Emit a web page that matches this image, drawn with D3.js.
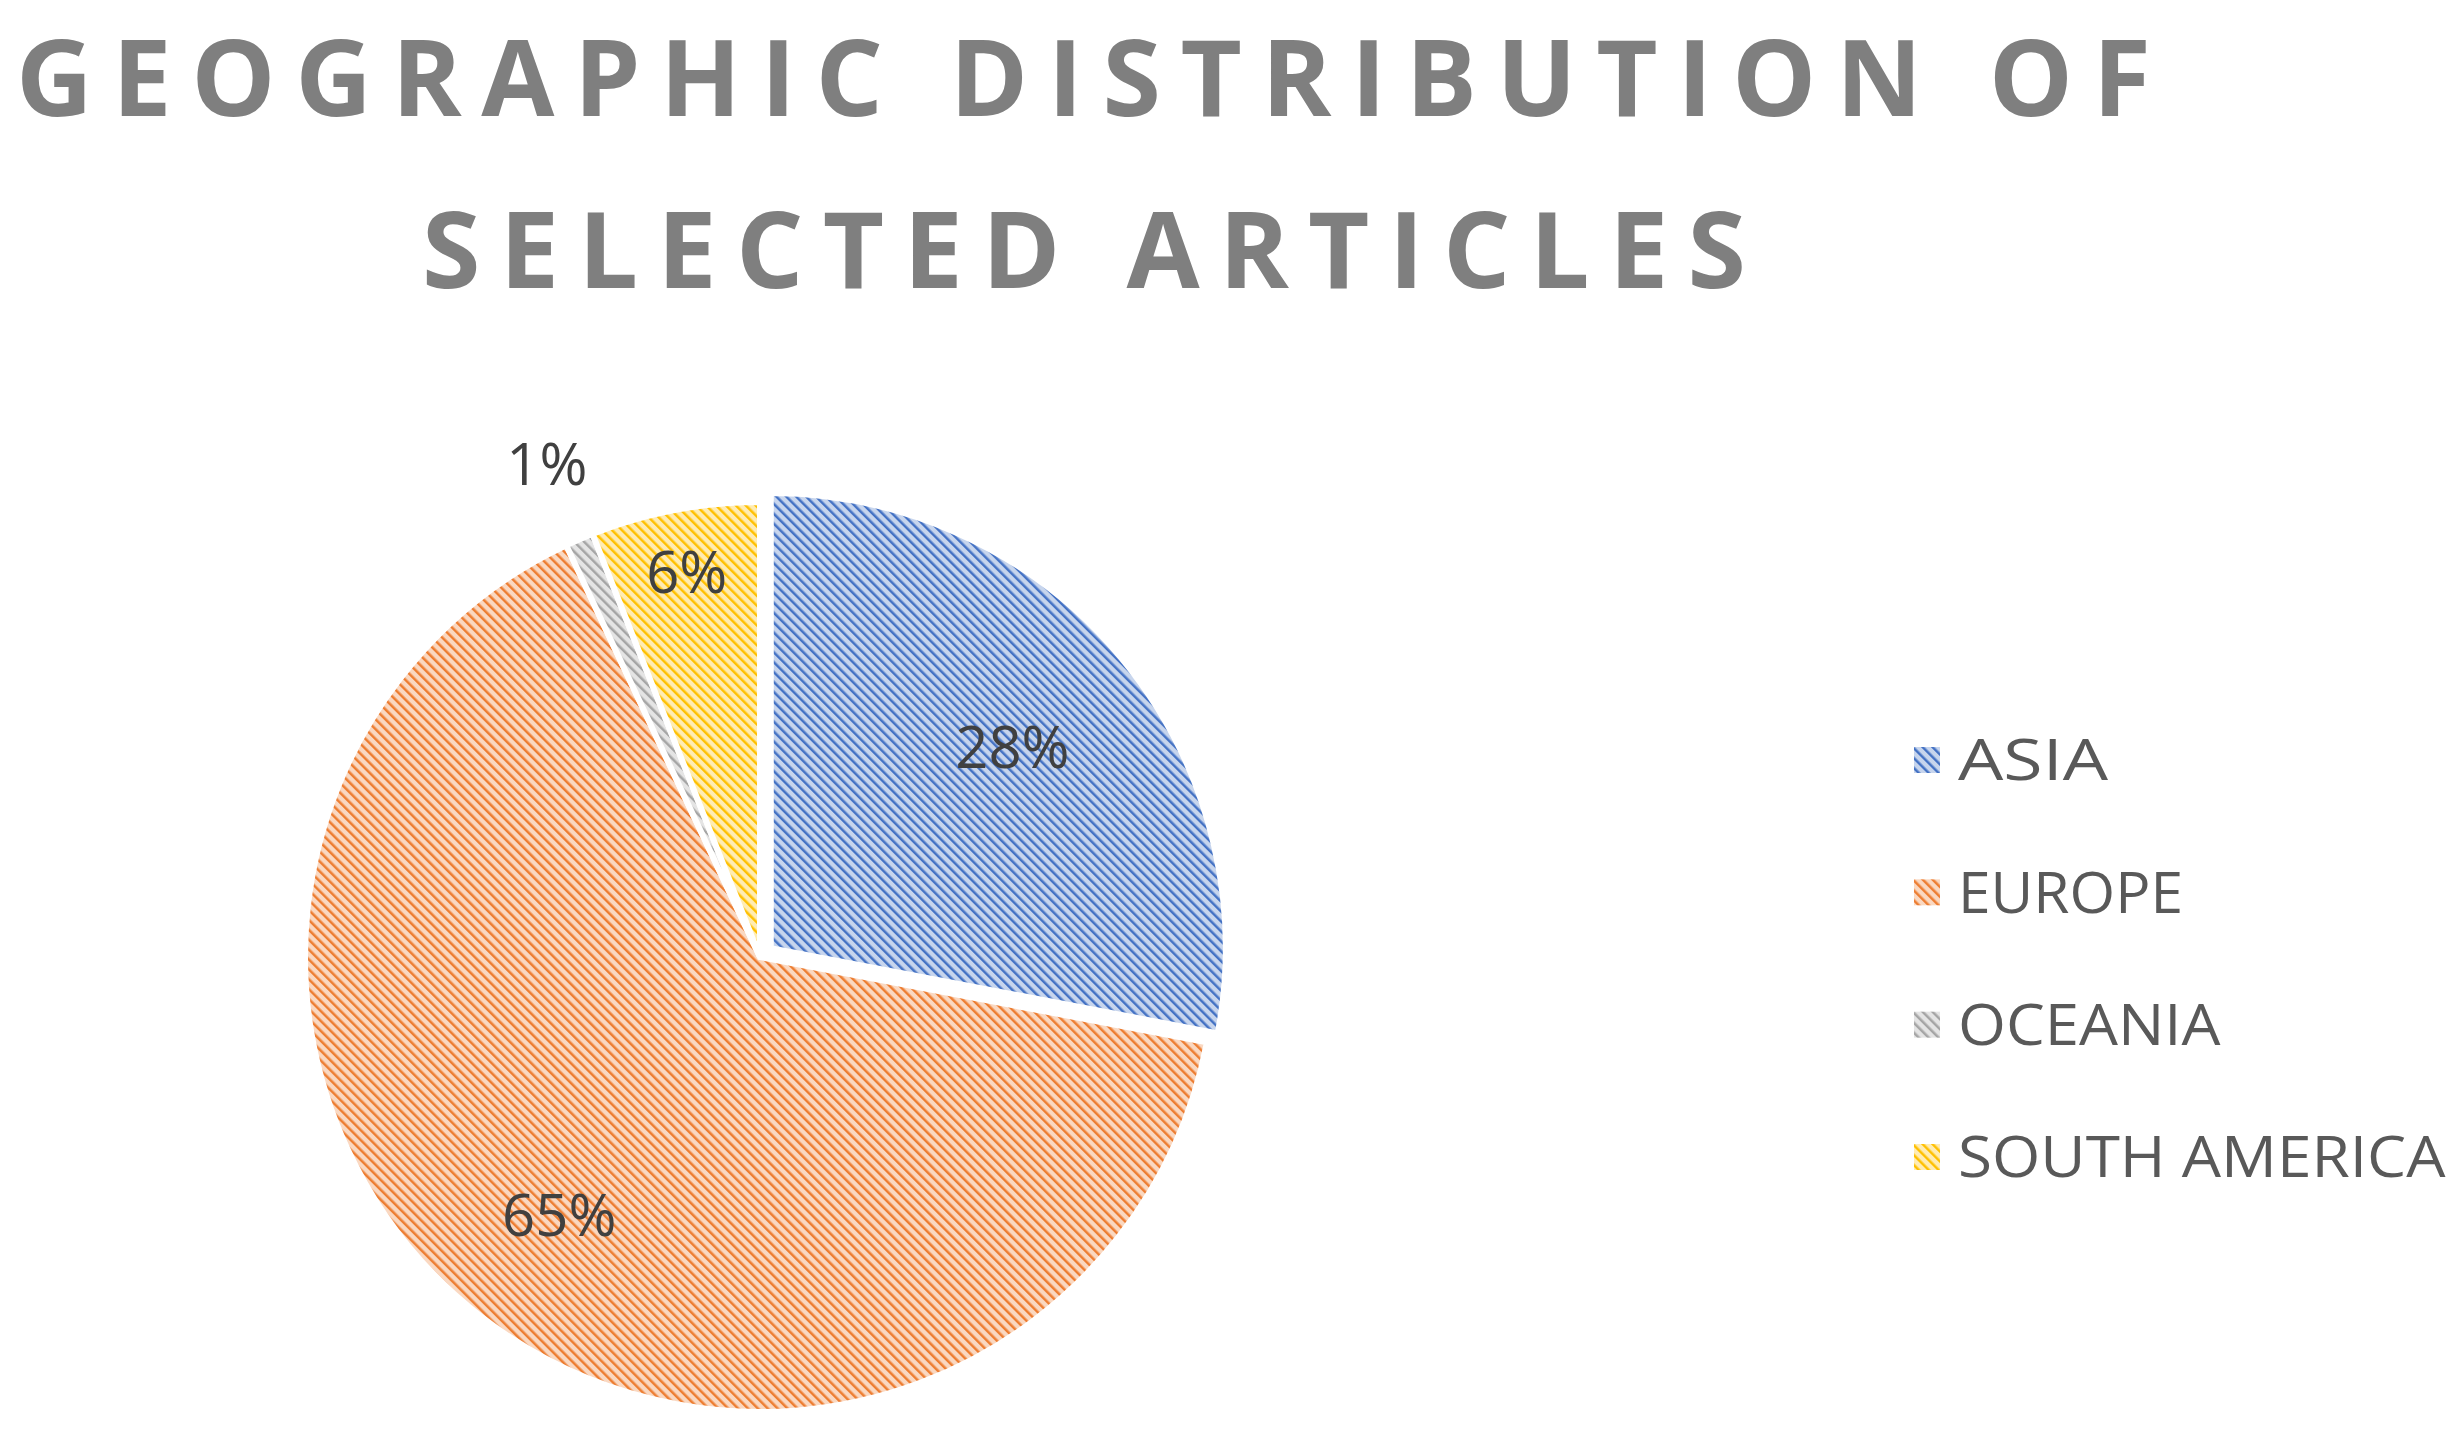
<!DOCTYPE html>
<html>
<head>
<meta charset="utf-8">
<script src="https://cdn.jsdelivr.net/npm/d3@7"></script>
<style>
  body { margin: 0; background: #fff; }
  svg { display: block; }
</style>
</head>
<body>
<svg id="chart" width="2458" height="1430"></svg>
<script>
var titleLines = ["GEOGRAPHIC DISTRIBUTION OF", "SELECTED ARTICLES"];
var regions = ["ASIA", "EUROPE", "OCEANIA", "SOUTH AMERICA"];
var shares = [28, 65, 1, 6];
var colors = ["#4472C4", "#ED7D31", "#A5A5A5", "#FFC000"];

var svg = d3.select("#chart");
var cx = 760, cy = 957, radius = 455;

// hatch patterns
var defs = svg.append("defs");
regions.forEach(function(r, i) {
    var p = defs.append("pattern")
        .attr("id", "hatch" + i)
        .attr("patternUnits", "userSpaceOnUse")
        .attr("width", 7).attr("height", 7)
        .attr("patternTransform", "rotate(-45)");
    p.append("rect").attr("width", 7).attr("height", 7)
        .attr("fill", d3.interpolateRgb(colors[i], "#fff")(0.7));
    p.append("rect").attr("width", 2.5).attr("height", 7).attr("fill", colors[i]);
});

// title
svg.selectAll(".title")
    .data(titleLines)
    .enter()
    .append("text")
    .attr("class", "title")
    .attr("x", function(d, i) { return i == 0 ? 16 : 422; })
    .attr("y", function(d, i) { return 116 + i * 172; })
    .attr("textLength", function(d, i) { return i == 0 ? 2135 : 1324; })
    .attr("lengthAdjust", "spacing")
    .style("font-family", "'Open Sans', sans-serif")
    .style("font-weight", "bold")
    .style("font-size", "106px")
    .style("fill", "#7f7f7f")
    .text(function(d) { return d; });

// pie
var pie = d3.pie().sort(null).value(function(d) { return d; });
var arc = d3.arc().innerRadius(0).outerRadius(radius);
var arcs = pie(shares);

var g = svg.append("g").attr("transform", "translate(" + cx + "," + cy + ")");
g.selectAll("path")
    .data(arcs)
    .enter()
    .append("path")
    .attr("d", arc)
    .attr("transform", function(d, i) {
        if (i != 0) return null;
        var a = (d.startAngle + d.endAngle) / 2;
        return "translate(" + (Math.sin(a) * 14) + "," + (-Math.cos(a) * 14) + ")";
    })
    .attr("fill", function(d, i) { return "url(#hatch" + i + ")"; })
    .attr("stroke", "#fff")
    .attr("stroke-width", 6);

// data labels
var labelRadius = [0.72, 0.72, 1.18, 0.86];
g.selectAll(".lbl")
    .data(arcs)
    .enter()
    .append("text")
    .attr("class", "lbl")
    .attr("transform", function(d, i) {
        var a = (d.startAngle + d.endAngle) / 2;
        var r = radius * labelRadius[i];
        return "translate(" + (Math.sin(a) * r) + "," + (-Math.cos(a) * r) + ")";
    })
    .attr("dy", "0.35em")
    .attr("text-anchor", "middle")
    .style("font-family", "'Open Sans', sans-serif")
    .style("font-size", "58px")
    .style("fill", "#404040")
    .text(function(d) { return d.data + "%"; });

// legend
var legendY = d3.scalePoint().domain(regions).range([760, 1157]);
var legend = svg.selectAll(".legend")
    .data(regions)
    .enter()
    .append("g")
    .attr("class", "legend")
    .attr("transform", function(d) { return "translate(1914," + legendY(d) + ")"; });
legend.append("rect")
    .attr("x", 0).attr("y", -13)
    .attr("width", 26).attr("height", 26)
    .attr("fill", function(d, i) { return "url(#hatch" + i + ")"; });
legend.append("text")
    .attr("x", 44)
    .attr("dy", "0.36em")
    .attr("textLength", function(d) { return d.length * 37.5; })
    .attr("lengthAdjust", "spacingAndGlyphs")
    .style("font-family", "'Open Sans', sans-serif")
    .style("font-size", "56px")
    .style("fill", "#595959")
    .text(function(d) { return d; });
</script>
</body>
</html>
